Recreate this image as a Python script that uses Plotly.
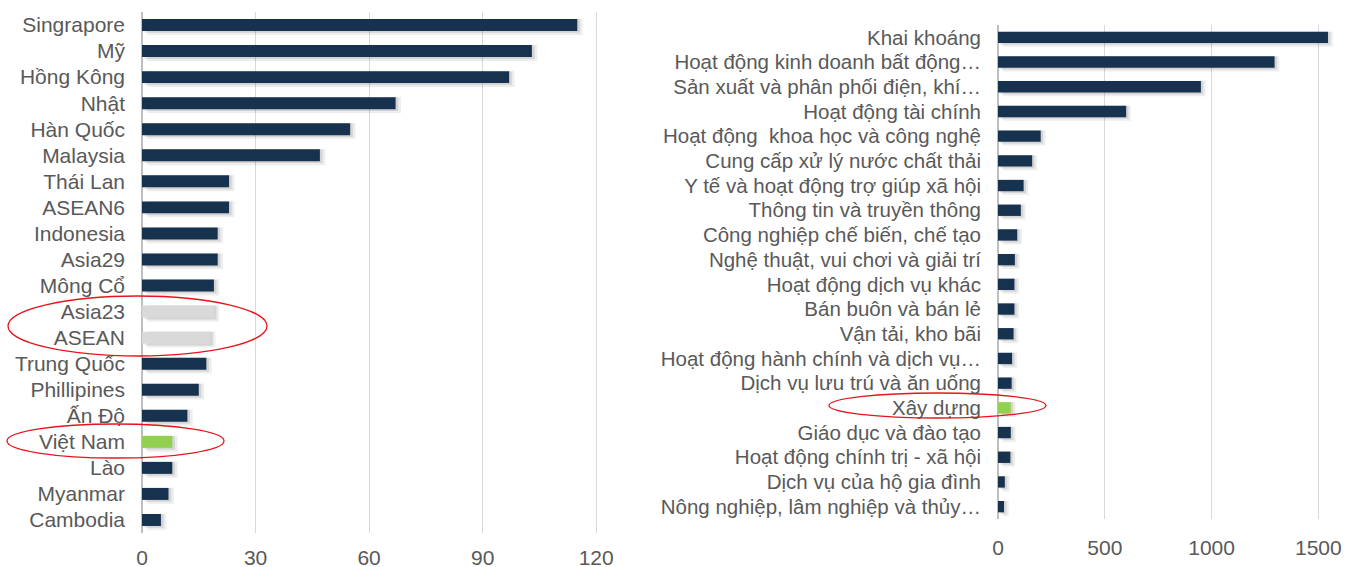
import plotly.graph_objects as go

W, H = 1349, 567

# ---- Data (top to bottom) ----
countries = ["Singrapore", "Mỹ", "Hồng Kông", "Nhật", "Hàn Quốc", "Malaysia", "Thái Lan",
             "ASEAN6", "Indonesia", "Asia29", "Mông Cổ", "Asia23", "ASEAN", "Trung Quốc",
             "Phillipines", "Ấn Độ", "Việt Nam", "Lào", "Myanmar", "Cambodia"]
country_values = [115, 103, 97, 67, 55, 47, 23, 23, 20, 20, 19, 19, 18, 17, 15, 12, 8, 8, 7, 5]
country_colors = ["#17324F"] * 11 + ["#D9D9D9", "#D9D9D9"] + ["#17324F"] * 3 + ["#92D050"] + ["#17324F"] * 3

sectors = ["Khai khoáng", "Hoạt động kinh doanh bất động…", "Sản xuất và phân phối điện, khí…",
           "Hoạt động tài chính", "Hoạt động  khoa học và công nghệ", "Cung cấp xử lý nước chất thải",
           "Y tế và hoạt động trợ giúp xã hội", "Thông tin và truyền thông",
           "Công nghiệp chế biến, chế tạo", "Nghệ thuật, vui chơi và giải trí",
           "Hoạt động dịch vụ khác", "Bán buôn và bán lẻ", "Vận tải, kho bãi",
           "Hoạt động hành chính và dịch vụ…", "Dịch vụ lưu trú và ăn uống", "Xây dựng",
           "Giáo dục và đào tạo", "Hoạt động chính trị - xã hội", "Dịch vụ của hộ gia đình",
           "Nông nghiệp, lâm nghiệp và thủy…"]
sector_values = [1545, 1295, 950, 600, 200, 160, 120, 107, 90, 79, 77, 77, 73, 66, 64, 60, 60, 58, 32, 28]
sector_colors = ["#17324F"] * 15 + ["#92D050"] + ["#17324F"] * 4

left_ticks = [0, 30, 60, 90, 120]
right_ticks = [0, 500, 1000, 1500]

FONT = "Liberation Sans, Arial, sans-serif"
TXT = "#595959"

fig = go.Figure()

def add_chart(cats, vals, colors, xa, ya, shift):
    # soft blurred-looking shadow (two translucent layers)
    fig.add_trace(go.Bar(y=cats, x=vals, base=[shift] * len(vals), orientation="h",
                         marker=dict(color="rgba(0,0,0,0.07)", line=dict(width=0)),
                         width=0.62, offset=-0.24, xaxis=xa, yaxis=ya,
                         hoverinfo="skip", showlegend=False))
    fig.add_trace(go.Bar(y=cats, x=vals, base=[shift * 0.5] * len(vals), orientation="h",
                         marker=dict(color="rgba(0,0,0,0.10)", line=dict(width=0)),
                         width=0.52, offset=-0.22, xaxis=xa, yaxis=ya,
                         hoverinfo="skip", showlegend=False))
    fig.add_trace(go.Bar(y=cats, x=vals, orientation="h",
                         marker=dict(color=colors, line=dict(width=0)),
                         width=0.46, offset=-0.23, xaxis=xa, yaxis=ya, showlegend=False))

add_chart(countries, country_values, country_colors, "x", "y", 1.4)
add_chart(sectors, sector_values, sector_colors, "x2", "y2", 22.0)

def px_x(p):
    return p / W

def px_y(p):
    return 1 - p / H

left_font = dict(family=FONT, size=21, color=TXT)
right_font = dict(family=FONT, size=20.5, color=TXT)

fig.update_layout(
    width=W, height=H,
    margin=dict(l=0, r=0, t=0, b=0),
    paper_bgcolor="white", plot_bgcolor="white",
    barmode="overlay",
    font=dict(family=FONT, color=TXT),
    xaxis=dict(domain=[px_x(142), px_x(600)], range=[0, 121], tickmode="array", tickvals=left_ticks,
               showgrid=True, gridcolor="#D9D9D9", gridwidth=1.3, zeroline=True,
               zerolinecolor="#BFBFBF", zerolinewidth=1.5, showline=False,
               tickfont=left_font, ticks="", ticklabelstandoff=10, automargin=False, fixedrange=True),
    yaxis=dict(domain=[px_y(533), px_y(12)], autorange="reversed", showgrid=False,
               tickmode="array", tickvals=countries,
               tickfont=left_font, ticks="", ticklabelstandoff=16, automargin=False,
               showline=False, fixedrange=True),
    xaxis2=dict(domain=[px_x(998), px_x(1344)], range=[0, 1620], tickmode="array", tickvals=right_ticks,
                anchor="y2", showgrid=True, gridcolor="#D9D9D9", gridwidth=1.3, zeroline=True,
                zerolinecolor="#BFBFBF", zerolinewidth=1.5, showline=False,
                tickfont=left_font, ticks="", ticklabelstandoff=14, automargin=False, fixedrange=True),
    yaxis2=dict(domain=[px_y(519), px_y(25)], anchor="x2", autorange="reversed", showgrid=False,
                tickmode="array", tickvals=sectors,
                tickfont=right_font, ticks="", ticklabelstandoff=16, automargin=False,
                showline=False, fixedrange=True),
)

# red ellipses highlighting
ellipses = [(8, 296, 267, 356), (7, 424, 224, 458), (829, 393, 1046, 418)]
for x0, y0, x1, y1 in ellipses:
    fig.add_shape(type="circle", xref="paper", yref="paper",
                  x0=px_x(x0), x1=px_x(x1), y0=px_y(y1), y1=px_y(y0),
                  line=dict(color="#E8141B", width=1.3), fillcolor="rgba(0,0,0,0)", layer="above")

fig.write_html("out.html", config={"displayModeBar": False},
               post_script="document.body.style.margin='0px';document.body.style.overflow='hidden';")
